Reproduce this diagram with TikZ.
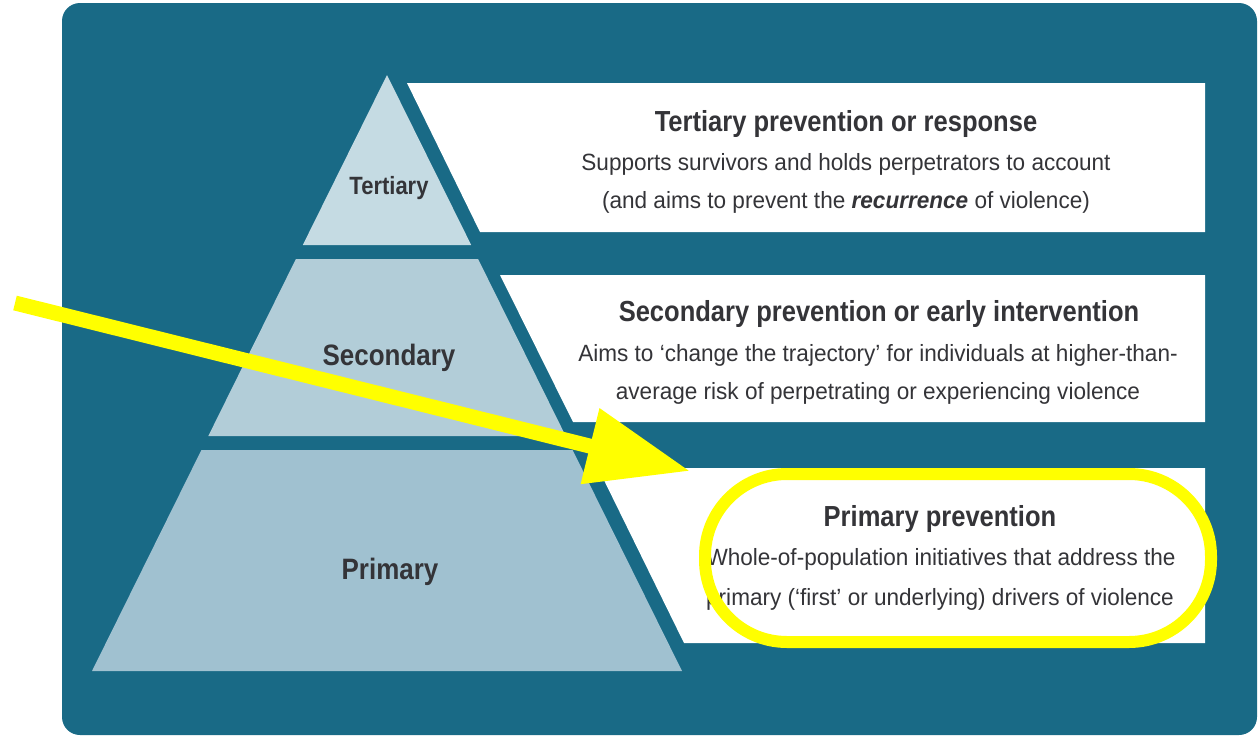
\documentclass[tikz,border=0pt]{standalone}
\usepackage{fontspec}
\setmainfont{Liberation Sans}
\newfontfamily\headfont{Liberation Sans}[FakeStretch=0.88]
\newfontfamily\bodyfont{Liberation Sans}[FakeStretch=0.96]
\usetikzlibrary{arrows.meta}
\definecolor{bgteal}{RGB}{25,106,134}
\definecolor{tierT}{RGB}{197,219,227}
\definecolor{tierS}{RGB}{178,205,216}
\definecolor{tierP}{RGB}{160,193,208}
\definecolor{txtgray}{RGB}{52,52,56}
\definecolor{hiyellow}{RGB}{255,255,0}
\tikzset{
  heading/.style={anchor=base, text=txtgray, font=\headfont\fontsize{29}{33}\selectfont\bfseries, inner sep=0},
  bodyline/.style={anchor=base, text=txtgray, font=\bodyfont\fontsize{23.5}{27}\selectfont, inner sep=0},
  tierlabel/.style={anchor=base, text=txtgray, font=\headfont\fontsize{29.5}{33}\selectfont\bfseries, inner sep=0},
  whitebox/.style={fill=white, draw=none},
  highlight/.style={draw=hiyellow, line width=12pt, rounded corners=82pt},
  pointer/.style={draw=hiyellow, line width=15pt, -{Triangle[length=103pt,width=74pt]}}
}
\begin{document}
\begin{tikzpicture}[x=1pt,y=-1pt]
\useasboundingbox (0,0) rectangle (1259,737);
\fill[white] (0,0) rectangle (1259,737);
% background panel
\fill[bgteal, rounded corners=18pt] (62,3) rectangle (1257,735);
% pyramid tiers
\fill[tierT] (387,75) -- (471.2,245) -- (302.8,245) -- cycle;
\fill[tierS] (295.9,259) -- (478.1,259) -- (565.7,436) -- (208.3,436) -- cycle;
\fill[tierP] (201.4,450) -- (572.6,450) -- (682,671) -- (92,671) -- cycle;
% white boxes
\fill[whitebox] (407,83) -- (1205,83) -- (1205,232) -- (480,232) -- cycle;
\fill[whitebox] (500,275) -- (1205,275) -- (1205,422) -- (573,422) -- cycle;
\fill[whitebox] (598,468) -- (1205,468) -- (1205,643) -- (684,643) -- cycle;
% tier labels
\node[tierlabel, font=\headfont\fontsize{25}{29}\selectfont\bfseries] (lblT) at (389,194) {Tertiary};
\node[tierlabel] (lblS) at (389,365) {Secondary};
\node[tierlabel] (lblP) at (390,579) {Primary};
% tertiary text
\node[heading] (hT) at (846,131) {Tertiary prevention or response};
\node[bodyline] (bT1) at (846,170) {Supports survivors and holds perpetrators to account};
\node[bodyline] (bT2) at (846,208) {(and aims to prevent the \textbf{\textit{recurrence}} of violence)};
% secondary text
\node[heading] (hS) at (879,321) {Secondary prevention or early intervention};
\node[bodyline] (bS1) at (878,361) {Aims to ‘change the trajectory’ for individuals at higher-than-};
\node[bodyline] (bS2) at (878,399) {average risk of perpetrating or experiencing violence};
% primary text
\node[heading] (hP) at (940,526) {Primary prevention};
\node[bodyline] (bP1) at (941,565) {Whole-of-population initiatives that address the};
\node[bodyline] (bP2) at (940,605) {primary (‘first’ or underlying) drivers of violence};
% highlight
\draw[highlight] (705,474) rectangle (1211,642);
\coordinate (arrowstart) at (15,303);
\coordinate (arrowtip) at (690,471);
\draw[pointer] (arrowstart) -- (arrowtip);
\end{tikzpicture}
\end{document}
